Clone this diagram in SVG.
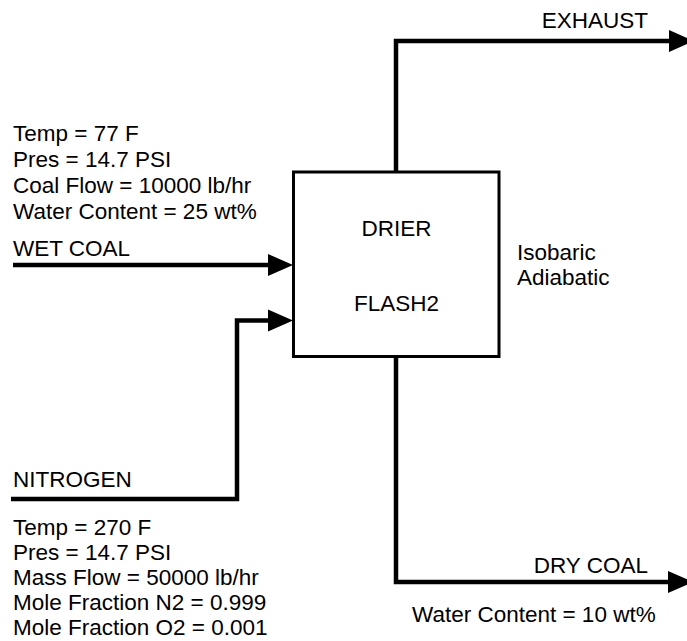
<svg xmlns="http://www.w3.org/2000/svg" width="687" height="641" viewBox="0 0 687 641">
<defs>
<style>
text{font-family:"Liberation Sans",Arial,sans-serif;font-size:22.5px;fill:#000}
.mid{text-anchor:middle}
.flow{fill:none;stroke:#000;stroke-width:4.5;stroke-linejoin:miter}
.box{fill:#fff;stroke:#000;stroke-width:3}
</style>
</defs>
<rect width="687" height="641" fill="#fff"/>
<g id="connectors">
<path id="wet-coal" class="flow" d="M13,265 H275" />
<path d="M268,254 L293,265 L268,276 Z" fill="#000"/>
<path id="nitrogen" class="flow" d="M11,499 H237 V320.5 H275"/>
<path d="M268,309.5 L293,320.5 L268,331.5 Z" fill="#000"/>
<path id="exhaust" class="flow" d="M396,172 V41 H675"/>
<path d="M669,30 L694,41 L669,52 Z" fill="#000"/>
<path id="dry-coal" class="flow" d="M396,357 V582 H675"/>
<path d="M668,571 L693,582 L668,593 Z" fill="#000"/>
</g>
<g id="drier">
<rect class="box" x="293.5" y="172" width="205.5" height="184.5"/>
<text class="mid" x="396.5" y="236">DRIER</text>
<text class="mid" x="396.5" y="311">FLASH2</text>
</g>
<g id="drier-spec">
<text x="517" y="260">Isobaric</text>
<text x="517" y="285">Adiabatic</text>
</g>
<g id="wet-coal-label">
<text x="13" y="141">Temp = 77 F</text>
<text x="13" y="167">Pres = 14.7 PSI</text>
<text x="13" y="193">Coal Flow = 10000 lb/hr</text>
<text x="13" y="219">Water Content = 25 wt%</text>
<text x="13" y="256">WET COAL</text>
</g>
<g id="nitrogen-label">
<text x="13" y="487">NITROGEN</text>
<text x="13" y="535">Temp = 270 F</text>
<text x="13" y="560">Pres = 14.7 PSI</text>
<text x="13" y="585">Mass Flow = 50000 lb/hr</text>
<text x="13" y="610">Mole Fraction N2 = 0.999</text>
<text x="13" y="635">Mole Fraction O2 = 0.001</text>
</g>
<g id="exhaust-label">
<text x="648" y="28" style="text-anchor:end">EXHAUST</text>
</g>
<g id="dry-coal-label">
<text x="648" y="573" style="text-anchor:end">DRY COAL</text>
<text x="412" y="622">Water Content = 10 wt%</text>
</g>
</svg>
